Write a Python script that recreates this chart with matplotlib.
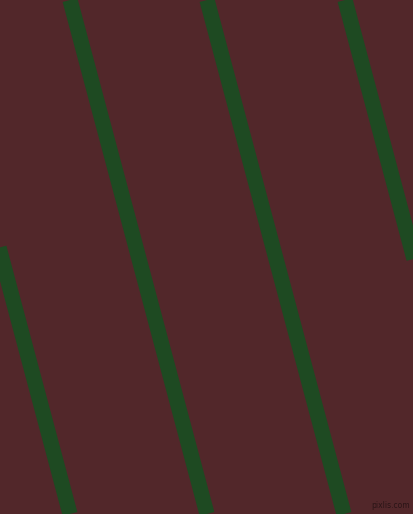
import matplotlib
matplotlib.use("Agg")
import matplotlib.pyplot as plt

# stripe centre x at the top edge (pixels) and the x at the bottom edge
stripe_top_x = [-67, 70, 207, 345]
stripe_bottom_x = [70, 207, 344, 482]

bg_color = "#52272a"
stripe_color = "#1e4a22"

W, H = 413, 514
fig = plt.figure(figsize=(W / 100, H / 100), dpi=100)
fig.patch.set_facecolor(bg_color)
ax = fig.add_axes([0, 0, 1, 1])
ax.set_facecolor(bg_color)
ax.set_xlim(0, W)
ax.set_ylim(H, 0)
ax.axis("off")

for x0, x1 in zip(stripe_top_x, stripe_bottom_x):
    ax.plot([x0, x1], [0, H], color=stripe_color, linewidth=11,
            solid_capstyle="butt")

ax.text(410, 506, "pixlis.com", fontsize=5.5, color="#2a1416",
        ha="right", va="center", family="DejaVu Sans")

fig.savefig("out.png", dpi=100, facecolor=bg_color)
